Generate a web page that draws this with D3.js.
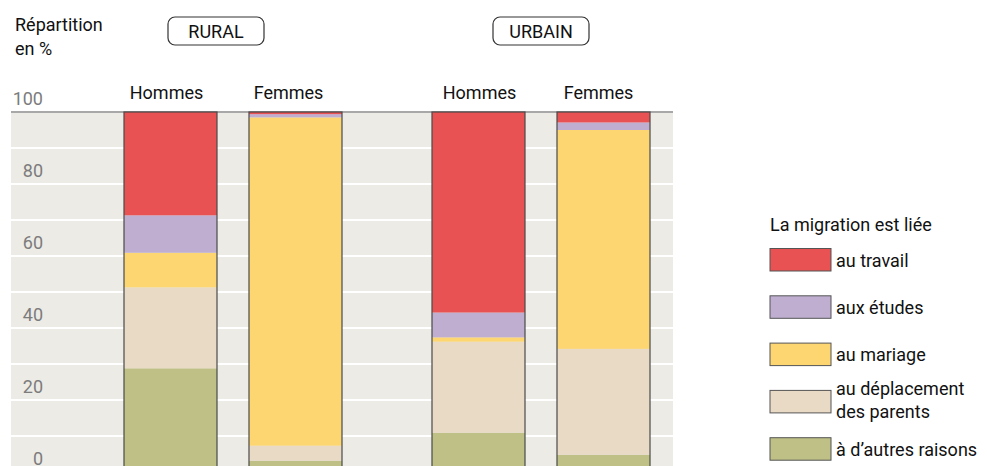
<!DOCTYPE html>
<html>
<head>
<meta charset="utf-8">
<script src="https://cdn.jsdelivr.net/npm/d3@7"></script>
<style>
  body { margin: 0; background: #fff; }
  svg text { font-family: Roboto, "Liberation Sans", sans-serif; fill: #111; }
</style>
</head>
<body>
<svg id="chart" width="987" height="466"></svg>
<script>
// data (share in %, bottom to top)
const zones = ["RURAL", "URBAIN"]
const sexes = ["Hommes", "Femmes"]
const reasons = ["autres", "parents", "mariage", "etudes", "travail"]
const reasonLabels = {
    travail: ["au travail"],
    etudes: ["aux études"],
    mariage: ["au mariage"],
    parents: ["au déplacement", "des parents"],
    autres: ["à d’autres raisons"]
}
const colors = ["#bfc086", "#e8dac5", "#fdd672", "#bfaed0", "#e85252"]
const autres  = [28.8, 3.1, 10.9, 4.8]
const parents = [22.5, 4.2, 25.3, 29.4]
const mariage = [9.6, 91.2, 1.2, 60.8]
const etudes  = [10.4, 0.9, 6.9, 2.1]
const travail = [28.7, 0.6, 55.7, 2.9]
const yTicks = [0, 20, 40, 60, 80, 100]

const rows = []
zones.forEach((z, zi) => sexes.forEach((s, si) => {
    const i = zi * 2 + si
    rows.push({id: z + "-" + s, zone: z, sex: s,
        autres: autres[i], parents: parents[i], mariage: mariage[i], etudes: etudes[i], travail: travail[i]})
}))

const svg = d3.select("#chart")

const y = d3.scaleLinear().domain([0, 100]).range([472, 112])
const x = d3.scaleOrdinal()
    .domain(rows.map(d => d.id))
    .range([124, 249, 432, 557])
const barW = 93
const labelShift = [-4, -7, 1, -5]   // column labels are not quite centred
const color = d3.scaleOrdinal().domain(reasons).range(colors)

// plot background
svg.append("rect")
    .attr("x", 11).attr("y", y(100))
    .attr("width", 662).attr("height", 466 - y(100))
    .attr("fill", "#ecebe6")

// grid
svg.append("g")
    .selectAll("line")
    .data(d3.range(0, 100, 10))
    .join("line")
    .attr("x1", 11).attr("x2", 673)
    .attr("y1", d => y(d)).attr("y2", d => y(d))
    .attr("stroke", "#fff")
    .attr("stroke-width", 2)

svg.append("line")
    .attr("x1", 11).attr("x2", 673)
    .attr("y1", y(100)).attr("y2", y(100))
    .attr("stroke", "#a8a8a8")
    .attr("stroke-width", 2)

// y tick labels, sitting just above their line
svg.append("g")
    .selectAll("text")
    .data(yTicks)
    .join("text")
    .attr("x", 43)
    .attr("y", d => y(d) - 7)
    .attr("text-anchor", "end")
    .style("font-size", "18px")
    .style("fill", "#7c7c7c")
    .text(d => d)

// stacked bars
const series = d3.stack().keys(reasons)(rows)
svg.append("g")
    .selectAll("g")
    .data(series)
    .join("g")
    .attr("fill", d => color(d.key))
    .selectAll("rect")
    .data(d => d)
    .join("rect")
    .attr("x", d => x(d.data.id))
    .attr("y", d => y(d[1]))
    .attr("width", barW)
    .attr("height", d => y(d[0]) - y(d[1]))

// bar outlines
svg.append("g")
    .selectAll("rect")
    .data(rows)
    .join("rect")
    .attr("x", d => x(d.id))
    .attr("y", y(100))
    .attr("width", barW)
    .attr("height", y(0) - y(100))
    .attr("fill", "none")
    .attr("stroke", "#4a4a4a")
    .attr("stroke-width", 1.2)

// column labels
svg.append("g")
    .selectAll("text")
    .data(rows)
    .join("text")
    .attr("x", (d, i) => x(d.id) + barW / 2 + labelShift[i])
    .attr("y", 99)
    .attr("text-anchor", "middle")
    .style("font-size", "18px")
    .text(d => d.sex)

// zone boxes
const zoneCenter = {RURAL: 216, URBAIN: 541}
const zoneBox = svg.append("g")
    .selectAll("g")
    .data(zones)
    .join("g")
    .attr("transform", d => `translate(${zoneCenter[d]},31)`)
zoneBox.append("rect")
    .attr("x", -48).attr("y", -14)
    .attr("width", 96).attr("height", 28)
    .attr("rx", 7)
    .attr("fill", "#fff")
    .attr("stroke", "#333")
    .attr("stroke-width", 1.2)
zoneBox.append("text")
    .attr("y", 7)
    .attr("text-anchor", "middle")
    .style("font-size", "18px")
    .text(d => d)

// y axis title
svg.append("text")
    .attr("x", 15).attr("y", 31)
    .style("font-size", "18px")
    .selectAll("tspan")
    .data(["Répartition", "en %"])
    .join("tspan")
    .attr("x", 15)
    .attr("dy", (d, i) => i ? 24 : 0)
    .text(d => d)

// legend
const legend = svg.append("g").attr("transform", "translate(770,0)")
legend.append("text")
    .attr("y", 231)
    .style("font-size", "18px")
    .text("La migration est liée")

const legendOrder = reasons.slice().reverse()
const item = legend.selectAll("g.item")
    .data(legendOrder)
    .join("g")
    .attr("class", "item")
    .attr("transform", (d, i) => `translate(0,${248.5 + i * 47.3})`)
item.append("rect")
    .attr("width", 61).attr("height", 22.5)
    .attr("fill", d => color(d))
    .attr("stroke", "#555")
    .attr("stroke-width", 1)
item.append("text")
    .attr("x", 66)
    .attr("y", d => reasonLabels[d].length > 1 ? 5 : 18)
    .style("font-size", "18px")
    .selectAll("tspan")
    .data(d => reasonLabels[d])
    .join("tspan")
    .attr("x", 66)
    .attr("dy", (d, i) => i ? 23 : 0)
    .text(d => d)
</script>
</body>
</html>
